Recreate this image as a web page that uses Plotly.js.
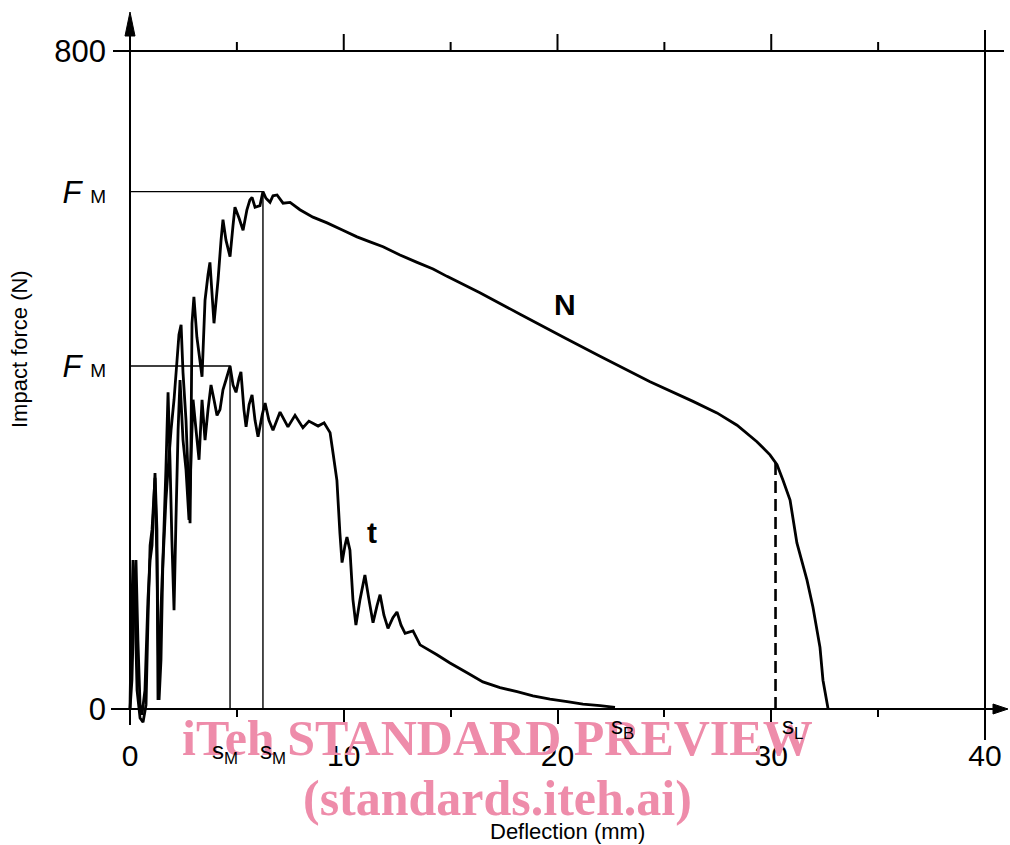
<!DOCTYPE html>
<html><head><meta charset="utf-8">
<script src="https://cdn.plot.ly/plotly-3.0.1.min.js"></script>
<style>html,body{margin:0;padding:0;background:#fff}#chart{width:1010px;height:845px}</style>
</head><body><div id="chart"></div>
<script>
// ---- data (deflection in mm, force in N) ----
const tDefl=[0,0.05,0.14,0.23,0.33,0.47,0.61,0.75,0.84,0.94,1.03,1.17,1.26,1.36,1.45,1.54,1.68,1.78,1.87,1.96,2.06,2.15,2.25,2.34,2.48,2.62,2.76,2.85,2.95,3.09,3.23,3.37,3.51,3.65,3.79,3.93,4.07,4.21,4.35,4.49,4.68,4.82,4.96,5.10,5.19,5.33,5.43,5.57,5.71,5.85,5.99,6.18,6.32,6.50,6.69,7.02,7.39,7.72,8.09,8.37,8.80,9.08,9.36,9.50,9.68,9.82,9.92,10.06,10.15,10.29,10.43,10.57,10.76,10.99,11.18,11.37,11.56,11.70,11.88,12.07,12.30,12.49,12.68,12.87,13.24,13.57,14.36,14.97,15.77,16.51,17.31,18.11,18.85,19.65,20.45,21.19,21.99,22.69];
const tForce=[0,84,181,133,23,-11,-16,5,108,199,218,281,181,11,60,181,291,385,303,205,120,230,339,400,327,291,230,303,376,339,303,376,327,364,394,376,357,364,388,400,417,394,385,402,410,364,343,370,382,351,331,357,372,351,339,361,343,357,342,350,344,348,336,311,278,214,178,199,209,193,133,102,133,163,133,105,126,139,114,98,111,118,102,92,95,78,66,56,44,33,26,21,16,12,9,6,4,2];
const nDefl=[0,0.09,0.19,0.28,0.37,0.47,0.56,0.70,0.84,0.94,1.03,1.12,1.17,1.26,1.31,1.40,1.50,1.59,1.68,1.78,1.92,2.06,2.20,2.29,2.39,2.48,2.62,2.76,2.81,2.85,2.90,2.99,3.13,3.27,3.37,3.51,3.65,3.74,3.93,4.12,4.26,4.35,4.49,4.68,4.82,4.91,5.10,5.29,5.47,5.61,5.71,5.85,6.08,6.22,6.36,6.55,6.69,6.88,7.16,7.49,7.95,8.56,9.22,9.96,10.62,11.23,11.84,12.63,13.43,14.18,14.83,16.37,18.25,20.35,21.99,24.33,26.34,27.46,28.40,29.33,29.94,30.27,30.55,30.88,31.20,31.67,31.95,32.28,32.42,32.66];
const nForce=[0,35,133,181,84,5,-7,23,133,181,199,254,287,218,11,84,157,205,254,291,339,376,424,455,467,409,351,254,226,315,469,501,452,424,404,497,528,543,469,522,570,595,570,550,588,610,597,582,607,619,622,610,612,629,621,616,624,625,615,616,607,598,591,582,574,568,562,552,543,535,526,506,480,451,429,398,374,360,345,325,309,297,278,254,202,157,124,75,35,0];
const xTickVals=[0,10,20,30,40];
const xTickText=['0','10','20','30','40'];
const xMinorVals=[5,15,25,35];
const yTopValue=800;
const sL=30.2;
const curveLabels=['N','t'];

// ---- derived values ----
function peak(xs,ys){let i=0;for(let k=1;k<ys.length;k++) if(ys[k]>ys[i]) i=k;return {x:xs[i],y:ys[i]};}
function interp(xs,ys,x){for(let k=1;k<xs.length;k++){if(xs[k]>=x){const f=(x-xs[k-1])/(xs[k]-xs[k-1]);return ys[k-1]+f*(ys[k]-ys[k-1]);}}return ys[ys.length-1];}
const pN=peak(nDefl,nForce), pT=peak(tDefl,tForce);
const fL=interp(nDefl,nForce,sL);
const sB=tDefl[tDefl.length-1];

// ---- geometry (pixel -> data scale) ----
const W=1010,H=845,PX0=130,PXU=21.375,PY0=709,PYU=0.8225;
const xr=[(0-PX0)/PXU,(W-PX0)/PXU];
const yr=[(PY0-H)/PYU,(PY0-0)/PYU];
const dx=p=>p/PXU, dy=p=>p/PYU;
const BLK='#000';

const curve=(x,y)=>({x:x,y:y,type:'scatter',mode:'lines',line:{color:BLK,width:2.8,simplify:false},hoverinfo:'skip'});
const thin=(x,y,w,dash)=>({x:x,y:y,type:'scatter',mode:'lines',line:{color:BLK,width:w,dash:dash||'solid'},hoverinfo:'skip'});

const traces=[
  curve(nDefl,nForce),
  curve(tDefl,tForce),
  thin([0,pN.x,pN.x],[pN.y,pN.y,0],1.4),
  thin([0,pT.x,pT.x],[pT.y,pT.y,0],1.4),
  thin([sL,sL],[0,fL],2.6,'12px,6px')
];

const line=(x0,y0,x1,y1,w)=>({type:'line',xref:'x',yref:'y',x0:x0,y0:y0,x1:x1,y1:y1,line:{color:BLK,width:w||2}});
const tri=(pts)=>({type:'path',xref:'x',yref:'y',path:'M'+pts.map(p=>p[0]+','+p[1]).join(' L')+' Z',fillcolor:BLK,line:{color:BLK,width:1}});
const yTip=dy(PY0-12), xTip=dx(1008-PX0);
const shapes=[
  line(0,-dy(16),0,yTip-dy(10),2),
  tri([[-dx(5),yTip-dy(24)],[0,yTip],[dx(5),yTip-dy(24)]]),
  line(-dx(19),0,xTip-dx(8),0,2),
  tri([[xTip-dx(15),-dy(5)],[xTip,0],[xTip-dx(15),dy(5)]]),
  line(-dx(17),yTopValue,dx(1004-PX0),yTopValue,2),
  line(40,-dy(31),40,dy(PY0-30),2)
];
xMinorVals.forEach(v=>shapes.push(line(v,yTopValue,v,yTopValue+dy(9),2)));
xTickVals.slice(1,4).forEach(v=>shapes.push(line(v,yTopValue,v,yTopValue+dy(17),2)));

const FM='<i>F</i> <span style="font-size:19px">M</span>';
const txt=(x,y,text,size,extra)=>Object.assign({x:x,y:y,xref:'x',yref:'y',text:text,showarrow:false,font:{family:'Liberation Sans, Arial, sans-serif',size:size,color:BLK}},extra||{});
const wm='rgb(238,140,170)';
const annotations=[
  txt(17.17,-35,'iTeh STANDARD PREVIEW',50,{font:{family:'Liberation Serif, Times New Roman, serif',size:50,color:wm,weight:'bold'}}),
  txt(17.17,-108,'(standards.iteh.ai)',50,{font:{family:'Liberation Serif, Times New Roman, serif',size:50,color:wm,weight:'bold'}}),
  txt(20.35,492,'<b>'+curveLabels[0]+'</b>',30),
  txt(11.32,215,'<b>'+curveLabels[1]+'</b>',30),
  txt(pT.x-dx(5),-dy(43),'s<sub>M</sub>',24),
  txt(pN.x+dx(10),-dy(43),'s<sub>M</sub>',24),
  txt(sB+dx(7),-dy(18),'s<sub>B</sub>',24),
  txt(sL+dx(17),-dy(18),'s<sub>L</sub>',24),
  txt(dx(567-PX0),-dy(831-PY0),'Deflection (mm)',22),
  txt(-dx(111),dy(PY0-349),'Impact force (N)',22,{textangle:-90})
];

const layout={
  width:W,height:H,margin:{l:0,r:0,t:0,b:0},showlegend:false,
  paper_bgcolor:'#fff',plot_bgcolor:'#fff',
  xaxis:{range:xr,anchor:'free',position:(0-yr[0])/(yr[1]-yr[0]),showgrid:false,zeroline:false,showline:false,
    tickvals:xTickVals,ticktext:xTickText,ticks:'outside',ticklen:14,tickwidth:2,tickcolor:BLK,
    tickfont:{family:'Liberation Sans, Arial, sans-serif',size:30,color:BLK},ticklabelstandoff:6,
    minor:{tickvals:xMinorVals,ticks:'outside',ticklen:7,tickwidth:2,tickcolor:BLK,showgrid:false}},
  yaxis:{range:yr,anchor:'free',position:(0-xr[0])/(xr[1]-xr[0]),showgrid:false,zeroline:false,showline:false,
    tickvals:[0,pT.y,pN.y,yTopValue],ticktext:['0',FM,FM,String(yTopValue)],ticks:'',
    tickfont:{family:'Liberation Sans, Arial, sans-serif',size:31,color:BLK},ticklabelstandoff:24},
  shapes:shapes,annotations:annotations
};
Plotly.newPlot('chart',traces,layout,{staticPlot:true,displayModeBar:false});
</script></body></html>
